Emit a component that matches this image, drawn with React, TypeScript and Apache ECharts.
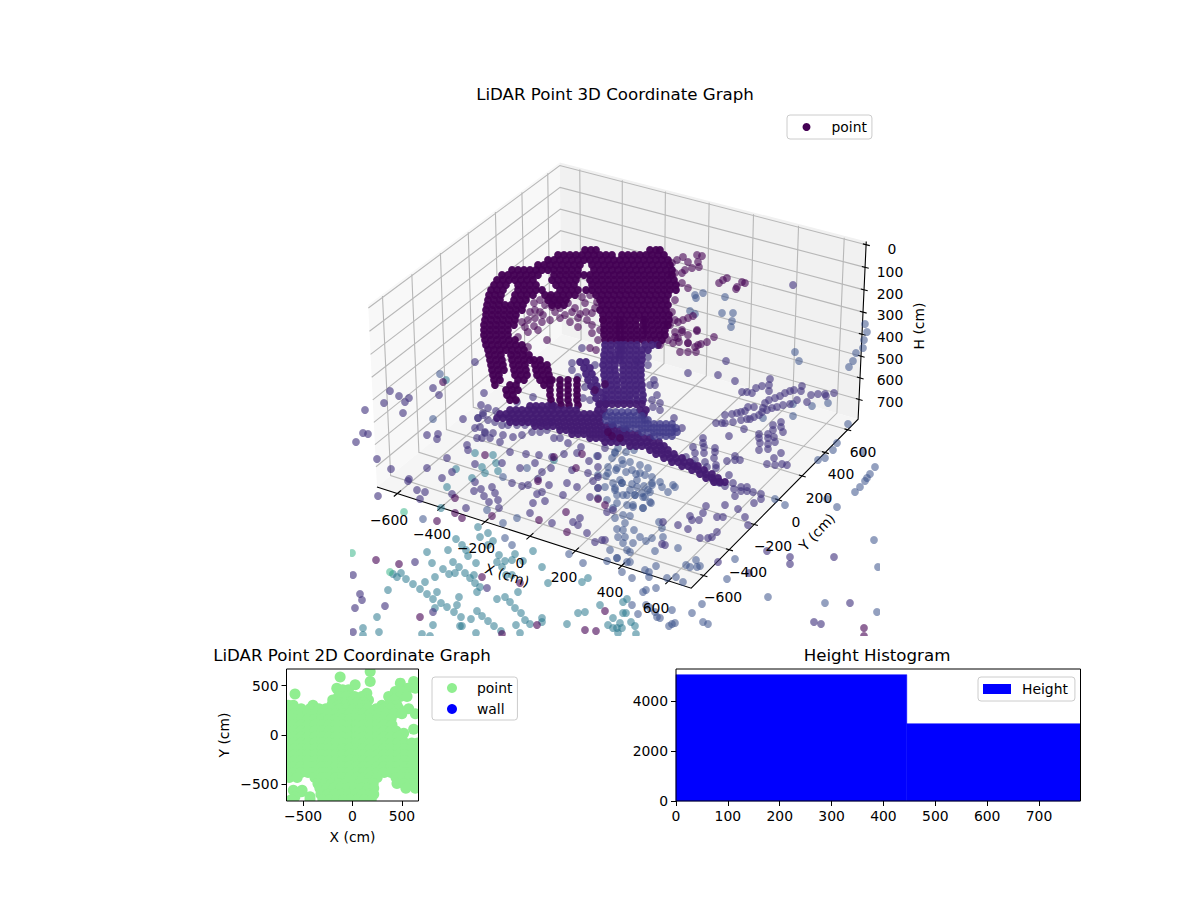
import React, { useEffect, useRef } from "react";
import * as echarts from "echarts";

const FONT = "DejaVu Sans";

// ---------- 3D view: axis ticks and limits (cm)
const xTicks3d = [-600, -400, -200, 0, 200, 400, 600];
const yTicks3d = [-600, -400, -200, 0, 200, 400, 600];
const hTicks3d = [0, 100, 200, 300, 400, 500, 600, 700];
const LIM = 695;
const H_TOP = -14;
const H_FLOOR = 792;

// Tick and axis captions of the 3D view: [text, x, y, degrees]
const xTickTexts: any[] = [["\u2212600", 389, 520], ["\u2212400", 432, 534], ["\u2212200", 476, 548], ["0", 520, 563], ["200", 564, 577], ["400", 610, 592], ["600", 656, 608]];
const yTickTexts: any[] = [["\u2212600", 723, 597], ["\u2212400", 748, 572], ["\u2212200", 773, 546], ["0", 796, 522], ["200", 819, 498], ["400", 841, 474], ["600", 863, 452]];
const hTickTexts: any[] = [["0", 892, 249], ["100", 890, 272], ["200", 890, 294], ["300", 890, 315], ["400", 890, 337], ["500", 890, 359], ["600", 890, 380], ["700", 890, 402]];
const axisCaptions: any[] = [["X (cm)", 507, 575, -18], ["Y (cm)", 817, 532, 47], ["H (cm)", 919, 326, 90]];

// ---------- 3D scatter (screen-plane position): rows are [y, [x...]]
const domeCoreRows: any[] = [
  [250, [585, 591, 596, 650, 656, 660]],
  [255, [558, 564, 570, 576, 582, 588, 594, 600, 606, 612, 622, 628, 634, 640, 646, 652, 658, 664]],
  [260, [548, 554, 560, 566, 572, 578, 584, 590, 596, 602, 608, 614, 620, 626, 632, 638, 644, 650, 656, 662, 668]],
  [265, [538, 544, 550, 556, 562, 568, 574, 580, 592, 598, 604, 610, 616, 622, 628, 634, 640, 646, 652, 658, 664, 670]],
  [270, [512, 518, 524, 530, 536, 542, 548, 554, 560, 566, 572, 578, 594, 600, 606, 612, 618, 624, 630, 636, 642, 648, 654, 660, 666, 672]],
  [275, [502, 508, 514, 520, 526, 532, 538, 554, 560, 566, 572, 578, 584, 590, 596, 602, 608, 614, 620, 626, 632, 638, 644, 650, 656, 662, 668, 672]],
  [280, [497, 503, 509, 515, 521, 527, 533, 552, 558, 564, 570, 576, 590, 596, 602, 608, 614, 620, 626, 632, 638, 644, 650, 656, 662, 668, 674]],
  [285, [494, 500, 506, 518, 524, 530, 536, 556, 562, 568, 574, 592, 598, 604, 610, 616, 622, 628, 634, 640, 646, 652, 658, 664, 670, 676]],
  [290, [491, 497, 503, 518, 524, 530, 536, 542, 560, 566, 572, 578, 586, 592, 598, 604, 610, 616, 622, 628, 634, 640, 646, 652, 658, 664, 670, 676]],
  [295, [489, 495, 501, 515, 521, 527, 533, 545, 551, 557, 563, 569, 575, 596, 602, 608, 614, 620, 626, 632, 638, 644, 650, 656, 662, 668]],
  [300, [488, 494, 500, 514, 520, 526, 548, 554, 560, 566, 600, 606, 612, 618, 624, 630, 636, 642, 648, 654, 660, 666]],
  [305, [487, 493, 499, 505, 511, 517, 523, 552, 558, 564, 602, 608, 614, 620, 626, 632, 638, 644, 650, 656, 662, 668]],
  [310, [486, 492, 498, 504, 510, 516, 522, 600, 606, 612, 618, 624, 630, 636, 642, 648, 654, 660, 666]],
  [315, [486, 492, 498, 504, 510, 516, 603, 609, 615, 621, 627, 633, 639, 645, 651, 657, 663, 669]],
  [320, [485, 491, 497, 503, 509, 515, 603, 609, 615, 620, 624, 630, 636, 643, 645, 651, 657, 663, 669]],
  [325, [484, 490, 496, 502, 508, 514, 604, 610, 616, 620, 624, 630, 636, 643, 646, 652, 658, 664, 668]],
  [330, [484, 490, 496, 502, 508, 604, 610, 616, 620, 625, 631, 637, 643, 647, 653, 659, 665]],
  [335, [484, 490, 496, 502, 508, 604, 610, 616, 620, 625, 631, 637, 643, 648, 654, 660, 665]],
  [340, [485, 491, 497, 503, 509, 515, 605, 611, 617, 621, 625, 631, 637, 643, 650, 656, 662]],
  [345, [486, 492, 498, 504, 510, 516, 522, 605, 611, 617, 621, 625, 631, 637, 645, 652, 658]],
  [350, [488, 494, 500, 506, 512, 518, 524, 605, 611, 618, 621, 624, 630, 636, 642, 648]],
  [355, [489, 495, 501, 511, 517, 523, 529, 604, 610, 616, 620, 624, 630, 636, 642]],
  [360, [490, 496, 502, 512, 518, 524, 530, 534, 540, 604, 610, 615, 620, 624, 630, 636, 642]],
  [365, [491, 497, 503, 513, 519, 525, 535, 541, 547, 603, 609, 615, 623, 629, 635, 641]],
  [370, [492, 498, 504, 514, 520, 526, 536, 542, 548, 604, 610, 615, 623, 629, 635, 641]],
  [375, [493, 499, 515, 521, 527, 537, 543, 549, 604, 610, 616, 623, 629, 635, 641]],
  [380, [494, 500, 518, 524, 540, 546, 552, 550, 560, 568, 577, 605, 611, 617, 623, 629, 635, 641]],
  [385, [495, 510, 516, 544, 550, 560, 568, 577, 605, 611, 617, 624, 630, 636, 642]],
  [390, [506, 512, 518, 550, 560, 568, 577, 606, 612, 618, 624, 630, 636, 642]],
  [395, [507, 513, 550, 560, 568, 577, 606, 612, 618, 624, 630, 636, 643]],
  [400, [510, 516, 551, 560, 568, 577, 606, 612, 618, 624, 630, 637, 643]],
  [405, [552, 561, 569, 578]],
  [362, [580, 586]], [368, [584, 590]], [374, [586, 592]], [380, [588, 595]], [386, [591, 597]], [392, [594, 600]], [398, [596, 603]], [404, [599, 606]],
];
const bandPurpleRows: any[] = [
  [404, [600, 606, 612, 618, 624, 630, 636, 642]],
  [406, [530, 536, 542, 548, 554]],
  [410, [510, 516, 522, 528, 534, 540, 546, 552, 558, 564, 570, 576, 598, 604, 640, 646]],
  [414, [500, 506, 512, 518, 524, 530, 536, 542, 548, 554, 560, 566, 572, 578, 584, 590, 596, 602, 644]],
  [418, [497, 503, 509, 515, 521, 527, 533, 539, 545, 551, 557, 563, 569, 575, 581, 587, 593, 599]],
  [422, [510, 516, 522, 528, 534, 540, 546, 552, 558, 564, 570, 576, 582, 588, 594, 600]],
  [426, [535, 541, 547, 553, 559, 565, 571, 577, 583, 589, 595, 601, 607, 613]],
  [430, [560, 566, 572, 578, 584, 590, 596, 602, 608, 614, 620, 626]],
  [434, [572, 578, 584, 590, 596, 602, 608, 614, 620, 626, 632, 638]],
  [438, [590, 596, 602, 608, 614, 620, 626, 632, 638, 644, 650]],
  [442, [605, 611, 617, 623, 629, 635, 641, 647, 653, 659]],
  [446, [630, 636, 642, 648, 654, 660, 664]],
  [450, [650, 656, 662, 668]],
  [454, [656, 662, 668, 674]],
  [458, [664, 670, 676, 682]],
  [462, [672, 678, 684, 690]],
  [466, [682, 688, 694, 698]],
  [470, [692, 698, 704]],
  [474, [700, 706, 712]],
  [478, [706, 712, 718]],
  [482, [714, 720, 725]],
];
const bandBlueRows: any[] = [
  [412, [610, 616, 622, 628, 634]],
  [416, [606, 612, 618, 624, 630, 636, 642]],
  [420, [606, 612, 618, 624, 630, 636, 642, 648]],
  [424, [612, 618, 624, 630, 636, 642, 648, 654, 660, 666, 672]],
  [428, [624, 630, 636, 642, 648, 654, 660, 666, 672, 676]],
  [432, [642, 648, 654, 660, 666, 672, 677]],
  [436, [654, 660, 666, 672]],
];
const deepPoints = [
  [587, 320], [578, 327], [592, 333], [543, 315], [547, 340], [525, 327], [538, 330], [518, 337], [528, 347], [590, 348], [592, 325], [603, 320], [595, 308], [592, 313], [575, 308], [565, 315], [555, 312], [545, 305], [550, 298], [558, 300], [568, 303], [560, 308], [552, 307], [582, 297], [590, 295], [597, 302], [585, 303], [535, 310], [530, 312], [540, 312], [535, 318], [528, 320], [522, 322], [540, 300], [534, 303], [572, 312], [580, 314], [586, 312], [578, 318], [570, 322], [560, 318], [550, 320], [542, 322], [534, 326], [528, 332], [600, 330], [598, 340], [596, 350],
  [682, 283], [688, 288], [675, 273], [682, 273], [685, 270], [692, 268], [672, 263], [677, 260], [683, 257], [688, 262], [697, 255], [702, 256], [698, 262], [699, 267], [675, 300], [672, 312], [675, 320], [678, 322], [683, 320], [688, 318], [693, 316], [675, 337], [682, 330], [688, 335], [679, 342], [688, 343], [697, 330], [698, 345],
  [719, 283], [723, 280], [727, 278], [742, 282], [745, 283], [737, 287], [736, 289],
  [697, 331], [714, 337], [707, 342], [701, 344], [695, 347], [696, 352], [688, 352], [680, 352], [688, 343], [673, 343], [678, 338], [682, 332], [675, 332], [668, 340], [660, 345], [670, 325],
  [595, 390], [605, 384], [612, 436], [608, 432], [620, 438],
  [443, 382], [455, 498], [455, 513], [462, 518], [437, 521], [492, 516], [399, 564], [376, 560], [482, 577], [520, 583], [420, 617], [502, 634], [537, 625], [605, 611], [585, 630], [596, 631], [538, 481], [539, 520], [566, 512], [598, 499], [605, 505], [567, 532], [554, 457], [582, 454], [576, 468], [485, 455], [864, 628], [864, 636],
];
const lavenderPoints = [
  [793, 285], [726, 361], [688, 373], [718, 375], [735, 381], [770, 379], [769, 385], [762, 386], [756, 388], [752, 393], [747, 392], [742, 392], [769, 391], [802, 386], [801, 391], [794, 390], [790, 391], [785, 393], [780, 396], [775, 398], [769, 400], [765, 403], [763, 408], [811, 395], [818, 394], [825, 394], [834, 393], [826, 396], [807, 402], [797, 400], [790, 404], [783, 405], [777, 407], [772, 408], [767, 410], [762, 412], [759, 415], [754, 417], [750, 419], [754, 407], [748, 407], [745, 411], [741, 412], [737, 413], [732, 414], [725, 415], [747, 419], [741, 420], [733, 422], [725, 423], [722, 423], [716, 423],
  [773, 425], [781, 422], [781, 427], [783, 432], [773, 430], [759, 434], [759, 438], [768, 434], [774, 437], [768, 438], [775, 442], [760, 443], [768, 444], [759, 450], [768, 449], [744, 429], [729, 436],
  [703, 438], [703, 443], [704, 447], [704, 453], [715, 448], [715, 452], [693, 447], [695, 453], [714, 458], [705, 462], [707, 467], [695, 460], [693, 464], [686, 457], [716, 465], [716, 468], [727, 461], [735, 456], [735, 460], [740, 460], [729, 475], [781, 453], [774, 458], [767, 464], [775, 465], [782, 464], [787, 465], [674, 418],
  [582, 348], [572, 363], [578, 377], [572, 370], [595, 365], [585, 387], [583, 398], [590, 400], [637, 362], [648, 357], [648, 365], [650, 385], [655, 385], [654, 380], [657, 395], [652, 400], [660, 403], [653, 407], [660, 410], [643, 415], [645, 420], [682, 428], [533, 397], [517, 402], [478, 418], [483, 413], [488, 420], [495, 422], [502, 425], [508, 425], [517, 425], [525, 425], [533, 423], [542, 423], [550, 422], [475, 428], [485, 432],
  [761, 494], [761, 499], [754, 503], [753, 492], [747, 487], [747, 491], [741, 487], [741, 491], [733, 483], [735, 496], [734, 489], [725, 486], [720, 483], [717, 482], [713, 480], [725, 505], [706, 506], [703, 513], [690, 516], [692, 520], [699, 520], [717, 517], [723, 517], [738, 509], [745, 517], [748, 525], [688, 529], [717, 532], [712, 537], [708, 538], [700, 538], [678, 525], [663, 522], [662, 544], [665, 545], [718, 562], [767, 551], [790, 557], [790, 564], [834, 557], [749, 573], [850, 603], [814, 622], [821, 624],
  [433, 388], [439, 395], [390, 391], [399, 396], [409, 398], [405, 402], [384, 403], [403, 413], [365, 410], [463, 419], [363, 433], [368, 434], [356, 442], [427, 435], [438, 434], [437, 439], [377, 459], [391, 469], [447, 458], [427, 468], [409, 479], [452, 472], [442, 478], [475, 362], [481, 405], [488, 408], [496, 411], [484, 393], [478, 418], [483, 415], [480, 427], [477, 438], [485, 433], [493, 433], [503, 435], [513, 437], [522, 435], [532, 432], [540, 432], [547, 430], [490, 438], [500, 442], [482, 438], [467, 445], [468, 450], [510, 452], [475, 464], [502, 463], [526, 454], [539, 455], [552, 457], [564, 454], [577, 453], [589, 461], [598, 456], [605, 448], [598, 467], [554, 438], [560, 438], [568, 443], [581, 447], [542, 472], [535, 463], [520, 468], [551, 468], [572, 470], [588, 473], [598, 477], [538, 479], [475, 482], [512, 483], [522, 486], [528, 485], [549, 485], [567, 483], [577, 487], [593, 481], [598, 488],
  [378, 496], [408, 481], [417, 490], [425, 492], [420, 499], [452, 494], [466, 508], [474, 491], [481, 489], [492, 487], [484, 496], [495, 493], [498, 500], [489, 502], [499, 508], [542, 492], [537, 494], [563, 495], [533, 503], [545, 501], [530, 513], [552, 523], [573, 522], [580, 518], [578, 525], [590, 497], [607, 512], [613, 510], [587, 533], [602, 540], [595, 542], [605, 540], [353, 575], [360, 594], [362, 600], [355, 608], [385, 606], [415, 562], [433, 612], [353, 632], [487, 588],
];
const slatePoints = [
  [695, 295], [696, 298], [703, 293], [725, 297], [722, 313], [733, 313], [690, 311], [695, 314], [795, 352], [799, 361], [731, 327], [732, 321], [865, 324], [867, 332], [864, 340], [863, 348], [856, 353], [853, 361], [849, 367], [812, 406], [828, 403], [793, 404], [763, 418], [793, 416], [440, 374], [433, 419],
  [848, 424], [837, 443], [833, 450], [825, 458], [863, 452], [818, 460], [875, 467], [870, 474], [867, 478], [865, 481], [860, 487], [855, 492], [837, 507], [827, 499], [785, 505], [775, 499], [659, 522], [662, 528], [663, 537], [678, 548], [655, 551], [652, 538], [646, 541], [640, 537], [634, 530], [686, 565], [690, 567], [696, 560], [697, 567], [700, 566], [656, 566], [649, 572], [645, 570], [649, 577], [667, 578], [676, 577], [683, 582], [632, 578], [622, 572], [630, 562], [735, 559], [727, 579], [878, 567], [874, 540], [768, 597], [825, 603], [877, 612], [702, 604], [692, 613], [703, 622], [708, 624], [675, 623], [672, 624], [669, 626], [672, 610], [657, 617], [660, 618], [655, 612], [646, 605], [650, 608], [638, 614], [632, 605], [643, 592], [646, 590], [656, 588],
  [615, 490], [622, 483], [627, 495], [623, 495], [635, 495], [642, 493], [645, 497], [650, 492], [652, 485], [660, 482], [668, 492], [673, 485], [651, 503], [643, 508], [633, 507], [627, 505], [617, 503], [615, 518], [623, 515], [630, 516], [625, 523], [623, 530], [625, 537], [623, 543], [627, 550], [630, 552], [633, 543], [610, 550], [617, 558], [627, 562], [597, 456], [615, 453], [623, 464], [632, 470], [648, 468], [640, 473], [645, 475], [652, 477], [598, 475], [608, 473], [622, 483], [637, 480], [652, 483], [648, 490], [662, 487], [675, 487], [637, 487], [630, 490], [598, 488], [605, 487], [615, 488], [617, 495], [635, 495], [643, 497], [650, 502], [633, 505], [643, 508], [613, 508], [607, 500], [598, 498], [618, 448], [626, 452], [634, 450], [612, 458], [622, 460], [630, 462], [640, 465], [616, 470], [626, 472], [636, 474], [606, 476], [620, 480], [632, 484], [644, 486], [503, 477], [527, 468], [423, 519], [487, 510], [503, 523], [517, 518], [512, 545], [505, 538], [607, 561], [617, 558], [583, 563], [569, 554], [615, 452], [617, 468], [608, 467], [613, 483], [617, 529], [618, 537],
];
const tealPoints = [
  [446, 380], [456, 469], [475, 453], [493, 455], [482, 467], [496, 463], [498, 471], [485, 473], [472, 478], [554, 460], [447, 487], [441, 508], [478, 527], [480, 537], [488, 533], [493, 541], [488, 545], [505, 561], [499, 555], [497, 562], [512, 560], [523, 561], [533, 551], [542, 567], [515, 554], [502, 567], [512, 575], [506, 575], [518, 592], [548, 583], [588, 578], [582, 582], [474, 575], [477, 592], [475, 583], [480, 587], [470, 578], [465, 573], [459, 567], [453, 562], [455, 573], [449, 574], [443, 569], [435, 577], [425, 582], [432, 563], [448, 550], [427, 552], [456, 539], [462, 545], [466, 550], [468, 556], [476, 563], [393, 574], [397, 577], [401, 573], [406, 579], [413, 584], [420, 589], [427, 594], [433, 599], [441, 603], [447, 607], [454, 612], [461, 617], [457, 605], [459, 597], [437, 592], [388, 590], [377, 617], [435, 608], [363, 628], [379, 632], [363, 635], [422, 634], [433, 625], [430, 636], [460, 626], [462, 626], [471, 619], [477, 611], [482, 616], [488, 621], [494, 626], [501, 631], [476, 633], [520, 633], [516, 625], [525, 620], [530, 624], [542, 618], [542, 622], [521, 613], [515, 608], [510, 602], [505, 597], [497, 599], [567, 624], [578, 613], [585, 612], [600, 605], [608, 625], [617, 628], [618, 633], [627, 599], [623, 602], [623, 613], [626, 613], [613, 618], [620, 623], [622, 628], [613, 628], [631, 622], [635, 626], [636, 634],
];
const greenTealPoints = [[390, 572], [352, 553], [404, 512]];

// ---------- 2D scatter (cm): rows are [Y, [X...]]
const planRows: any[] = [
  [677, [78, 264]], [643, [179]], [586, [-125]], [542, [179, 619]], [525, [484]], [508, [27]], [474, [-159, 636, 560]], [457, [-41, -100]], [440, [433, 500]], [416, [-582]], [423, [145]],
  [389, [-142, -60, 20, 95, 366, 484, 552]], [355, [162, -200, 420]], [330, [-130, -70, -10, 50, 110]],
  [300, [-650, -600, -400, -210, -140, -70, 0, 70, 140, 298, 370, 450]],
  [265, [-660, -590, -520, -430, -340, -270, -200, -130, -60, 10, 80, 150, 240, 320, 390, 470, 569]],
  [215, [-660, -590, -520, -450, -380, -310, -240, -170, -100, -30, 40, 110, 180, 260, 340, 420, 500, 636]],
  [160, [-660, -590, -520, -450, -380, -310, -240, -170, -100, -30, 40, 110, 180, 250, 320, 390]],
  [100, [-660, -590, -520, -450, -380, -310, -240, -170, -100, -30, 40, 110, 180, 250, 320, 400]],
  [58, [619]],
  [40, [-660, -590, -520, -450, -380, -310, -240, -170, -100, -30, 40, 110, 180, 250, 320, 390, 440]],
  [17, [518]],
  [-20, [-660, -590, -520, -450, -380, -310, -240, -170, -100, -30, 40, 110, 180, 250, 320, 390, 460]],
  [-80, [-660, -590, -520, -450, -380, -310, -240, -170, -100, -30, 40, 110, 180, 250, 320, 390, 460, 530, 600, 660]],
  [-140, [-660, -590, -520, -450, -380, -310, -240, -170, -100, -30, 40, 110, 180, 250, 320, 390, 460, 530, 600, 660]],
  [-200, [-660, -590, -520, -450, -380, -310, -240, -170, -100, -30, 40, 110, 180, 250, 320, 390, 460, 530, 600, 660]],
  [-260, [-660, -590, -520, -450, -380, -310, -240, -170, -100, -30, 40, 110, 180, 250, 320, 390, 460, 530, 600, 660]],
  [-320, [-660, -590, -520, -450, -380, -310, -240, -170, -100, -30, 40, 110, 180, 250, 320, 390, 460, 530, 600, 660]],
  [-380, [-660, -590, -520, -450, -380, -310, -240, -170, -100, -30, 40, 110, 180, 250, 320, 390, 460, 530, 600, 660]],
  [-430, [-640, -560, -380, -310, -240, -170, -100, -30, 40, 110, 180, 250, 440, 510, 580, 650]],
  [-490, [-350, -280, -210, -140, -70, 0, 70, 140, 210, 450, 520, 590, 650]],
  [-540, [-330, -260, -190, -120, -50, 20, 90, 160, 215, 540, 636]],
  [-559, [-599, -510]], [-575, [-515]],
  [-600, [-320, -250, -180, -110, -40, 30, 100, 170, 215]],
  [-626, [-582, -430]],
  [-655, [-620, -430, -300, -230, -160, -90, -20, 50, 120, 190]],
];
const planTicks = [-500, 0, 500];
const wallPoints: number[][] = [];

// ---------- Histogram
const histEdges = [0, 445, 780];
const histCounts = [5072, 3104];
const histXTicks = [0, 100, 200, 300, 400, 500, 600, 700];
const histYTicks = [0, 2000, 4000];

const flatten = (rows: any[]) => rows.flatMap(([y, xs]: any) => xs.map((x: number) => [x, y]));

// matplotlib-like perspective view (elev 30, azim -60)
const BOX = [1.19, 1.19, 0.69];
function project(x: number, y: number, h: number): number[] {
  const dx = (x / LIM) * (BOX[0] / 2);
  const dy = (y / LIM) * (BOX[1] / 2);
  const dz = ((H_FLOOR - h) / (H_FLOOR - H_TOP) - 0.5) * BOX[2];
  const u = 0.866 * dx + 0.5 * dy;
  const v = -0.25 * dx + 0.433 * dy + 0.866 * dz;
  const w = 0.433 * dx - 0.75 * dy + 0.5 * dz;
  const D = 10 - w;
  return [622 + (3010 * u) / D, 364 - (3010 * v) / D];
}

function buildOption() {
  const panes = [
    { pts: [project(-LIM, -LIM, H_FLOOR), project(-LIM, LIM, H_FLOOR), project(-LIM, LIM, H_TOP), project(-LIM, -LIM, H_TOP)], fill: "#f8f8f8" },
    { pts: [project(-LIM, LIM, H_FLOOR), project(LIM, LIM, H_FLOOR), project(LIM, LIM, H_TOP), project(-LIM, LIM, H_TOP)], fill: "#f1f1f1" },
    { pts: [project(-LIM, -LIM, H_FLOOR), project(LIM, -LIM, H_FLOOR), project(LIM, LIM, H_FLOOR), project(-LIM, LIM, H_FLOOR)], fill: "#f5f5f5" },
  ];
  const HG = -6;
  const grid: number[][][] = [
    ...xTicks3d.map((x) => [project(x, -LIM, H_FLOOR), project(x, LIM, H_FLOOR), project(x, LIM, HG)]),
    ...yTicks3d.map((y) => [project(LIM, y, H_FLOOR), project(-LIM, y, H_FLOOR), project(-LIM, y, HG)]),
    ...hTicks3d.map((h) => [project(-LIM, -LIM, h), project(-LIM, LIM, h), project(LIM, LIM, h)]),
  ];
  const axes: number[][][] = [
    [project(-LIM, -LIM, H_FLOOR), project(LIM, -LIM, H_FLOOR), project(LIM, LIM, H_FLOOR), project(LIM, LIM, H_TOP)],
    ...xTicks3d.map((x) => [project(x, -LIM - 25, H_FLOOR), project(x, -LIM + 25, H_FLOOR)]),
    ...yTicks3d.map((y) => [project(LIM - 14, y, H_FLOOR), project(LIM + 16, y, H_FLOOR)]),
    ...hTicks3d.map((h) => [project(LIM - 14, LIM, h), project(LIM + 16, LIM, h)]),
  ];

  const polyline = (paths: number[][][], stroke: string, lineWidth: number, z: number) => ({
    type: "custom", xAxisIndex: 0, yAxisIndex: 0, silent: true, z, animation: false,
    data: paths.map((_, i) => [i, 0]),
    renderItem: (p: any, api: any) => ({
      type: "polyline",
      shape: { points: paths[p.dataIndex].map((q) => api.coord(q)) },
      style: { stroke, lineWidth, fill: "none" },
    }),
  });
  const panesSeries = {
    type: "custom", xAxisIndex: 0, yAxisIndex: 0, silent: true, z: 1,
    data: panes.map((_, i) => [i, 0]),
    renderItem: (p: any, api: any) => ({
      type: "polygon",
      shape: { points: panes[p.dataIndex].pts.map((q) => api.coord(q)) },
      style: { fill: panes[p.dataIndex].fill, stroke: "none" },
    }),
  };
  const cloud = (name: string, data: any[], color: string, opacity: number, z: number) => ({
    type: "scatter", name, xAxisIndex: 0, yAxisIndex: 0, data, symbolSize: 7.8, z, silent: true, clip: false,
    itemStyle: { color, opacity },
  });
  const texts = (items: any[], size: number) => ({
    type: "custom", xAxisIndex: 0, yAxisIndex: 0, silent: true, z: 8,
    data: items.map((t, i) => [i, 0]),
    renderItem: (p: any, api: any) => {
      const t = items[p.dataIndex];
      const c = api.coord([t[1], t[2]]);
      return {
        type: "text", x: c[0], y: c[1], rotation: ((t[3] || 0) * Math.PI) / 180,
        style: { text: t[0], fontFamily: FONT, fontSize: size, fill: "#000", align: "center", verticalAlign: "middle" },
      };
    },
  });
  // White strips that trim the marks at the edge of each panel
  const mask = (xi: number, rects: number[][], z: number) => ({
    type: "custom", xAxisIndex: xi, yAxisIndex: xi, silent: true, z,
    data: rects.map((_, i) => [i, 0]),
    renderItem: (p: any, api: any) => {
      const r = rects[p.dataIndex];
      const a = api.coord([r[0], r[1]]);
      const b = api.coord([r[2], r[3]]);
      return {
        type: "rect",
        shape: { x: Math.min(a[0], b[0]), y: Math.min(a[1], b[1]), width: Math.abs(a[0] - b[0]), height: Math.abs(a[1] - b[1]) },
        style: { fill: "#fff", stroke: "none" },
      };
    },
  });
  const frame = (xi: number, xr: number[], yr: number[], z: number) => ({
    type: "custom", xAxisIndex: xi, yAxisIndex: xi, silent: true, z,
    data: [[xr[0], yr[0]]],
    renderItem: (_p: any, api: any) => {
      const a = api.coord([xr[0], yr[1]]);
      const b = api.coord([xr[1], yr[0]]);
      return { type: "rect", shape: { x: a[0], y: a[1], width: b[0] - a[0], height: b[1] - a[1] }, style: { fill: "none", stroke: "#000", lineWidth: 1 } };
    },
  });

  const minus = (v: number) => String(v).replace("-", "\u2212");
  const axisBase = {
    z: 9,
    axisLine: { show: false, onZero: false },
    splitLine: { show: false },
    nameTextStyle: { fontFamily: FONT, fontSize: 13.9, color: "#000" },
    nameLocation: "middle",
  };
  const tick = (values: number[]) => ({
    axisTick: { show: true, length: 5, lineStyle: { color: "#000", width: 1 }, customValues: values },
    axisLabel: { show: true, margin: 8, fontFamily: FONT, fontSize: 13.9, color: "#000", customValues: values, formatter: (v: number) => minus(v), hideOverlap: false },
  });
  const PL = 668;
  const PM = 62;
  const HX = 780;
  const HY = 5300;
  const legendBase = {
    orient: "vertical", selectedMode: false, backgroundColor: "rgba(255,255,255,0.8)", borderColor: "#cccccc", borderWidth: 1, borderRadius: 3,
    itemWidth: 28, textStyle: { fontFamily: FONT, fontSize: 13.9, color: "#000", padding: [0, 0, 0, 6] },
  };
  const labelOf: any = { point3d: "point", point2d: "point", wall: "wall", Height: "Height" };
  const titleStyle = { fontFamily: FONT, fontSize: 16.67, fontWeight: "normal", color: "#000" };

  const core = flatten(domeCoreRows);
  const isFinger = ([x, y]: number[]) => y >= 345 && x >= 580;

  return {
    animation: false,
    backgroundColor: "#fff",
    title: [
      { text: "LiDAR Point 3D Coordinate Graph", left: 610, top: 81, textAlign: "center", textStyle: titleStyle },
      { text: "LiDAR Point 2D Coordinate Graph", left: 347, top: 642, textAlign: "center", textStyle: titleStyle },
      { text: "Height Histogram", left: 872, top: 642, textAlign: "center", textStyle: titleStyle },
    ],
    legend: [
      { ...legendBase, left: 787, top: 115, padding: [5, 5, 5, 15.5], itemHeight: 8, data: [{ name: "point3d", icon: "circle", itemStyle: { color: "#440154", opacity: 1 } }], formatter: (n: string) => labelOf[n] },
      { ...legendBase, left: 432, top: 677, padding: [4, 5, 4, 15], itemHeight: 10, itemGap: 7, data: [{ name: "point2d", icon: "circle", itemStyle: { color: "#90ee90", opacity: 1 } }, { name: "wall", icon: "circle", itemStyle: { color: "#0000ff", opacity: 1 } }], formatter: (n: string) => labelOf[n] },
      { ...legendBase, left: 978, top: 677, padding: [5, 7, 5, 5], itemHeight: 10, data: [{ name: "Height", icon: "rect", itemStyle: { color: "#0000ff", opacity: 1 } }], formatter: (n: string) => labelOf[n] },
    ],
    grid: [
      { left: 340, top: 100, width: 550, height: 545, show: false },
      { left: 286.5, top: 669, width: 132, height: 132, show: false },
      { left: 676, top: 669, width: 404.5, height: 132, show: false },
    ],
    xAxis: [
      { type: "value", gridIndex: 0, min: 340, max: 890, show: false },
      { type: "value", gridIndex: 1, min: -PL, max: PL, name: "X (cm)", nameGap: 29, ...axisBase, ...tick(planTicks) },
      { type: "value", gridIndex: 2, min: 0, max: HX, ...axisBase, ...tick(histXTicks) },
    ],
    yAxis: [
      { type: "value", gridIndex: 0, min: 100, max: 645, inverse: true, show: false },
      { type: "value", gridIndex: 1, min: -PL, max: PL, name: "Y (cm)", nameGap: 56, ...axisBase, ...tick(planTicks) },
      { type: "value", gridIndex: 2, min: 0, max: HY, ...axisBase, ...tick(histYTicks) },
    ],
    series: [
      panesSeries,
      polyline(grid, "#b8b8b8", 1.1, 2),
      polyline(axes, "#000", 1.1, 2),
      cloud("teal", tealPoints, "#2a788e", 0.55, 3),
      cloud("greenTeal", greenTealPoints, "#2ab07f", 0.5, 3),
      cloud("slate", slatePoints, "#3b528b", 0.55, 3),
      cloud("lavender", lavenderPoints, "#433580", 0.62, 3),
      cloud("point3d", core.filter((p: number[]) => !isFinger(p)), "#440154", 0.96, 4),
      cloud("fingers", core.filter(isFinger), "#45237a", 0.95, 4),
      cloud("bandPurple", flatten(bandPurpleRows), "#431b72", 0.95, 4),
      cloud("bandBlue", flatten(bandBlueRows), "#40398a", 0.8, 4),
      cloud("deep", deepPoints, "#440154", 0.6, 4),
      mask(0, [[340, 636, 890, 645], [340, 100, 350, 645], [880, 440, 890, 645]], 5),
      texts([...xTickTexts, ...yTickTexts, ...hTickTexts, ...axisCaptions], 13.9),
      {
        type: "scatter", name: "point2d", xAxisIndex: 1, yAxisIndex: 1, data: flatten(planRows), symbolSize: 11, silent: true, clip: true, z: 3,
        itemStyle: { color: "#90ee90", opacity: 1 },
      },
      { type: "scatter", name: "wall", xAxisIndex: 1, yAxisIndex: 1, data: wallPoints, symbolSize: 11, z: 3, itemStyle: { color: "#0000ff", opacity: 1 } },
      mask(1, [[-PL - PM, PL, PL + PM, PL + PM], [-PL - PM, -PL - PM, PL + PM, -PL], [-PL - PM, -PL, -PL, PL], [PL, -PL, PL + PM, PL]], 5),
      frame(1, [-PL, PL], [-PL, PL], 6),
      {
        type: "custom", name: "Height", xAxisIndex: 2, yAxisIndex: 2, silent: true, z: 3,
        itemStyle: { color: "#0000ff" },
        encode: { x: [0, 1], y: 2 },
        data: histCounts.map((c, i) => [histEdges[i], histEdges[i + 1], c]),
        renderItem: (_p: any, api: any) => {
          const a = api.coord([api.value(0), api.value(2)]);
          const b = api.coord([api.value(1), 0]);
          return { type: "rect", shape: { x: a[0], y: a[1], width: b[0] - a[0], height: b[1] - a[1] }, style: { fill: "#0000ff", stroke: "#0000ff", lineWidth: 0.5 } };
        },
      },
      frame(2, [0, HX], [0, HY], 6),
    ],
  };
}

export default function App() {
  const ref = useRef<HTMLDivElement>(null);
  useEffect(() => {
    document.body.style.margin = "0";
    const chart = echarts.init(ref.current!, undefined, { renderer: "svg" });
    chart.setOption(buildOption() as any);
    return () => chart.dispose();
  }, []);
  return <div ref={ref} style={{ width: 1200, height: 900 }} />;
}
